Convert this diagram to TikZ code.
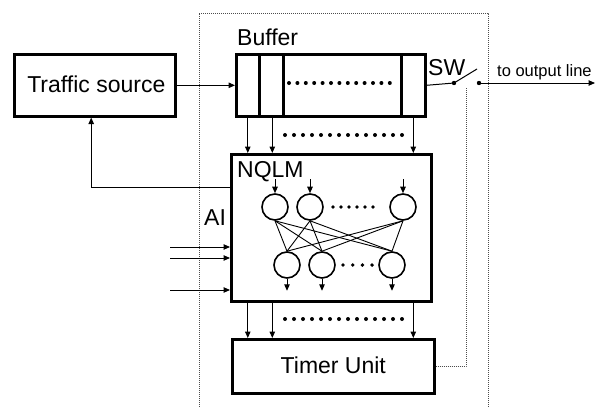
\documentclass[tikz,border=0pt]{standalone}
\usepackage{fontspec}
\setmainfont{Liberation Sans}
\usetikzlibrary{arrows.meta,calc}
\begin{document}
\begin{tikzpicture}[x=1pt,y=-1pt,
  thickbox/.style={draw, line width=2.6pt, inner sep=0pt, anchor=north west},
  neuron/.style={circle, draw, line width=1.6pt, minimum size=26pt, inner sep=0pt},
  conn/.style={line width=0.9pt},
  arr/.style={line width=1pt, -{Triangle[length=6.5pt,width=5.5pt]}},
  frameline/.style={line width=0.8pt, dash pattern=on 1pt off 1pt, black!70},
  lbl/.style={font=\fontsize{23}{27}\selectfont, inner sep=0pt},
  small/.style={font=\fontsize{16.5}{20}\selectfont, inner sep=0pt},
]
\useasboundingbox (0,0) rectangle (595,407);

% outer dotted frame
\coordinate (f1) at (199,407);
\coordinate (f2) at (199,13);
\coordinate (f3) at (488,13);
\coordinate (f4) at (488,407);
\draw[frameline] (f1) -- (f2) -- (f3) -- (f4);

% traffic source
\node[thickbox, minimum width=161pt, minimum height=62pt, lbl] (ts) at (13,53) {};
\node[lbl] at ($(ts.center)+(1.5,-1)$) {Traffic source};

% buffer
\node[thickbox, minimum width=23pt, minimum height=62pt] (c1) at (235,53) {};
\node[thickbox, minimum width=24pt, minimum height=62pt] (c2) at (258,53) {};
\node[thickbox, minimum width=118pt, minimum height=62pt] (c3) at (282,53) {};
\node[thickbox, minimum width=24pt, minimum height=62pt] (c4) at (400,53) {};
\node[lbl, anchor=base west] (buflbl) at (237,45) {Buffer};
\foreach \i in {0,...,12} \fill (289+\i*8.4,83) circle (2pt);

\draw[arr] (ts.east) -- (c1.west);

% switch
\coordinate (sw1) at (454,83);
\coordinate (sw2) at (479,83);
\coordinate (blade) at (477,69);
\coordinate (outend) at (595,83);
\draw[line width=1pt] (c4.east) -- (sw1) -- (blade);
\fill (sw1) circle (2.2pt);
\fill (sw2) circle (2.2pt);
\draw[arr] (sw2) -- (outend);
\node[lbl, anchor=base west] (swlbl) at (428,75) {SW};
\node[small, anchor=base west] (outlbl) at (497,76) {to output line};

% NQLM
\node[thickbox, minimum width=200pt, minimum height=147pt] (nq) at (230,153) {};
\node[lbl, anchor=base west] (nqlbl) at (237,177) {NQLM};
\node[lbl, anchor=base west] (ailbl) at (204,225) {AI};

% buffer -> NQLM
\draw[arr] (c1.south) -- (c1.south |- nq.north);
\draw[arr] ($(c2.south)+(1,0)$) -- ($(c2.south |- nq.north)+(1,0)$);
\draw[arr] (c4.south) -- (c4.south |- nq.north);
\foreach \i in {0,...,13} \fill (285+\i*9,135) circle (2pt);

% feedback
\coordinate (fb) at (230,187);
\draw[arr] (fb) -| ($(ts.south west)!0.478!(ts.south east)$);

% inputs
\coordinate (in1) at (170,247);
\coordinate (in2) at (170,258);
\coordinate (in3) at (170,290);
\foreach \c in {in1,in2,in3} \draw[arr] (\c) -- (\c -| nq.west);

% neurons
\node[neuron] (t1) at (275,207) {};
\node[neuron] (t2) at (310,207) {};
\node[neuron] (t3) at (403,207) {};
\node[neuron] (b1) at (287,265) {};
\node[neuron] (b2) at (322,265) {};
\node[neuron] (b3) at (392,265) {};
\foreach \i in {0,...,5} \fill (333+\i*8,207) circle (1.9pt);
\foreach \i in {0,...,3} \fill (343+\i*9.7,265) circle (1.9pt);
\foreach \t in {t1,t2,t3} \draw[arr] (\t.north) ++(0,-14) -- (\t.north);
\foreach \b in {b1,b2,b3} \draw[arr] (\b.south) -- ++(0,12);
\foreach \t in {t1,t2,t3}
  \foreach \b in {b1,b2,b3}
    \draw[conn] (\t.south) -- (\b.north);

% timer unit
\node[thickbox, minimum width=202pt, minimum height=54pt] (tu) at (231,338) {};
\node[lbl] at ($(tu.center)+(0,-1)$) {Timer Unit};
\draw[arr] (c1.south |- nq.south) -- (c1.south |- tu.north);
\draw[arr] ($(c2.south |- nq.south)+(1,0)$) -- ($(c2.south |- tu.north)+(1,0)$);
\draw[arr] (c4.south |- nq.south) -- (c4.south |- tu.north);
\foreach \i in {0,...,13} \fill (285+\i*9,319) circle (2pt);

% timer -> switch control
\coordinate (swc) at (466,87);
\draw[frameline] (tu.east) -| (swc);
\end{tikzpicture}
\end{document}
